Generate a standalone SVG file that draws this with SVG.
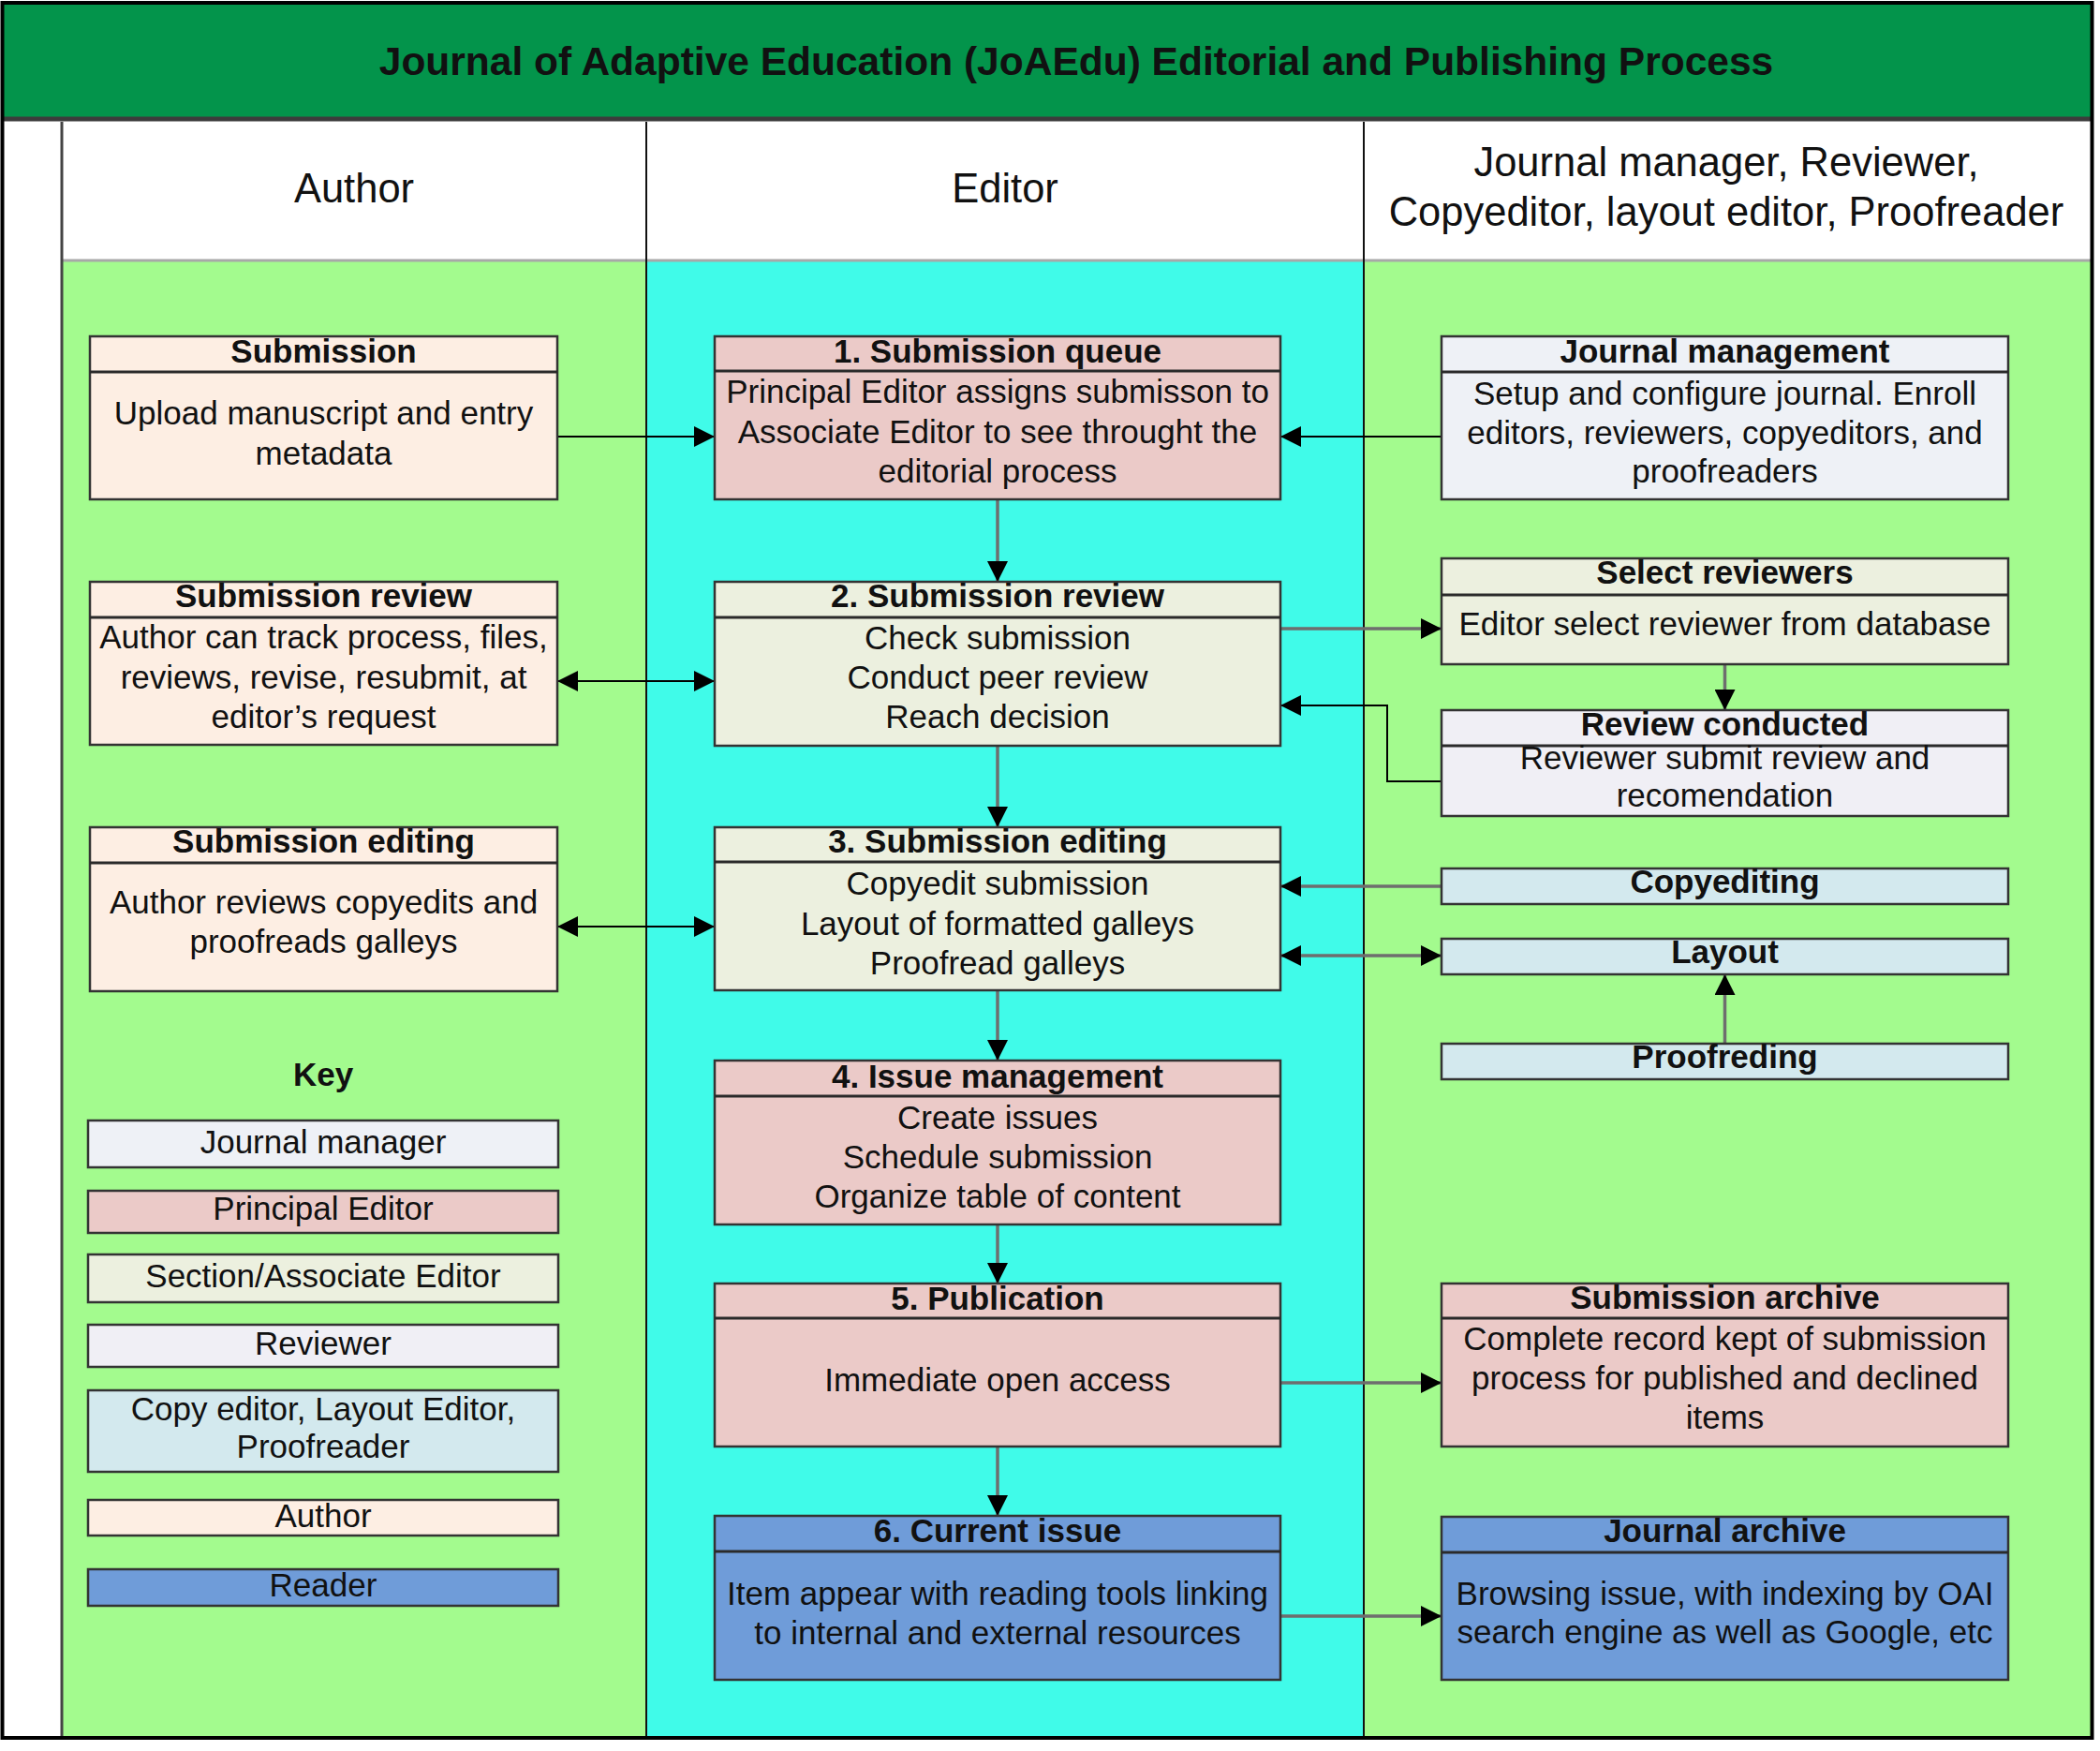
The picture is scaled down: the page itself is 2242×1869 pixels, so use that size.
<svg xmlns="http://www.w3.org/2000/svg" width="2242" height="1869" viewBox="0 0 2242 1869">
<style>
.t{font-family:"Liberation Sans",Arial,sans-serif;font-size:35px;text-anchor:middle;fill:#111}
.b{font-weight:bold}
.lh{font-size:43.5px}
.box{stroke:#333;stroke-width:2.5}
.div{stroke:#2a2a2a;stroke-width:3}
.au{fill:#fdeee3}
.pe{fill:#ebcac8}
.se{fill:#ecf0df}
.jm{fill:#eef1f6}
.rv{fill:#f0eff5}
.ce{fill:#d3e9ee}
.rd{fill:#6f9cd9}
.c{fill:none;stroke:#000;stroke-width:2}
.g{fill:none;stroke:#6e6e6e;stroke-width:3.5}
</style>
<defs>
<marker id="ah" viewBox="0 0 10 10" refX="10" refY="5" markerWidth="22" markerHeight="22" markerUnits="userSpaceOnUse" orient="auto-start-reverse"><path d="M0,0 L10,5 L0,10 z" fill="#000"/></marker>
</defs>
<rect x="0" y="0" width="2242" height="1869" fill="#fff"/>
<!-- lanes -->
<g id="background">
<rect x="4" y="4" width="2229" height="122" fill="#03944b"/>
<line x1="4" y1="127" x2="2233" y2="127" stroke="#3c3c3c" stroke-width="5"/>
<rect x="4" y="130" width="2229" height="147" fill="#fff"/>
<rect x="67" y="279" width="623" height="1575" fill="#a3fb8e"/>
<rect x="690" y="279" width="766" height="1575" fill="#40fbe9"/>
<rect x="1456" y="279" width="777" height="1575" fill="#a3fb8e"/>
<line x1="67" y1="278" x2="2233" y2="278" stroke="#a8a8a8" stroke-width="3"/>
<line x1="66" y1="130" x2="66" y2="1855" stroke="#444" stroke-width="3"/>
<line x1="690" y1="130" x2="690" y2="1855" stroke="#111" stroke-width="2"/>
<line x1="1456" y1="130" x2="1456" y2="1855" stroke="#111" stroke-width="2"/>
<rect x="2.5" y="3" width="2231" height="1852" fill="none" stroke="#000" stroke-width="4"/>
<text class="t b" x="1149" y="80" style="font-size:42.5px">Journal of Adaptive Education (JoAEdu) Editorial and Publishing Process</text>
<text class="t lh" x="378" y="216">Author</text>
<text class="t lh" x="1073" y="216">Editor</text>
<text class="t lh" x="1843" y="188">Journal manager, Reviewer,</text>
<text class="t lh" x="1843" y="241">Copyeditor, layout editor, Proofreader</text>
</g>
<!-- connectors -->
<g id="connectors">
<path class="c" d="M595,466 H763" marker-end="url(#ah)"/>
<path class="c" d="M1539,466 H1367" marker-end="url(#ah)"/>
<path class="g" d="M1065,533 V621" marker-end="url(#ah)"/>
<path class="c" d="M595,727 H763" marker-start="url(#ah)" marker-end="url(#ah)"/>
<path class="g" d="M1367,671 H1539" marker-end="url(#ah)"/>
<path class="g" d="M1841.5,709 V758" marker-end="url(#ah)"/>
<path class="c" d="M1539,834 H1481 V753 H1367" marker-end="url(#ah)"/>
<path class="g" d="M1065,796 V883" marker-end="url(#ah)"/>
<path class="c" d="M595,989 H763" marker-start="url(#ah)" marker-end="url(#ah)"/>
<path class="g" d="M1539,946 H1367" marker-end="url(#ah)"/>
<path class="g" d="M1367,1020 H1539" marker-start="url(#ah)" marker-end="url(#ah)"/>
<path class="g" d="M1841.5,1114 V1040" marker-end="url(#ah)"/>
<path class="g" d="M1065,1057 V1132" marker-end="url(#ah)"/>
<path class="g" d="M1065,1307 V1370" marker-end="url(#ah)"/>
<path class="g" d="M1065,1544 V1618" marker-end="url(#ah)"/>
<path class="g" d="M1367,1476 H1539" marker-end="url(#ah)"/>
<path class="g" d="M1367,1725 H1539" marker-end="url(#ah)"/>
</g>
<!-- Author lane -->
<g id="author-submission">
<rect class="box au" x="96" y="359" width="499" height="174"/>
<line class="div" x1="96" y1="397" x2="595" y2="397"/>
<text class="t b" x="345.5" y="387">Submission</text>
<text class="t" x="345.5" y="453">Upload manuscript and entry</text>
<text class="t" x="345.5" y="496">metadata</text>
</g>
<g id="author-review">
<rect class="box au" x="96" y="621" width="499" height="174"/>
<line class="div" x1="96" y1="659" x2="595" y2="659"/>
<text class="t b" x="345.5" y="648">Submission review</text>
<text class="t" x="345.5" y="692">Author can track process, files,</text>
<text class="t" x="345.5" y="735">reviews, revise, resubmit, at</text>
<text class="t" x="345.5" y="777">editor’s request</text>
</g>
<g id="author-editing">
<rect class="box au" x="96" y="883" width="499" height="175"/>
<line class="div" x1="96" y1="921" x2="595" y2="921"/>
<text class="t b" x="345.5" y="910">Submission editing</text>
<text class="t" x="345.5" y="975">Author reviews copyedits and</text>
<text class="t" x="345.5" y="1017">proofreads galleys</text>
</g>
<!-- Key -->
<g id="key">
<text class="t b" x="345" y="1159">Key</text>
<rect class="box jm" x="94" y="1196" width="502" height="50"/>
<text class="t" x="345" y="1231">Journal manager</text>
<rect class="box pe" x="94" y="1271" width="502" height="45"/>
<text class="t" x="345" y="1302">Principal Editor</text>
<rect class="box se" x="94" y="1339" width="502" height="51"/>
<text class="t" x="345" y="1374">Section/Associate Editor</text>
<rect class="box rv" x="94" y="1414" width="502" height="45"/>
<text class="t" x="345" y="1446">Reviewer</text>
<rect class="box ce" x="94" y="1484" width="502" height="87"/>
<text class="t" x="345" y="1516">Copy editor, Layout Editor,</text>
<text class="t" x="345" y="1556">Proofreader</text>
<rect class="box au" x="94" y="1601" width="502" height="38"/>
<text class="t" x="345" y="1630">Author</text>
<rect class="box rd" x="94" y="1675" width="502" height="39"/>
<text class="t" x="345" y="1704">Reader</text>
</g>
<!-- Editor lane -->
<g id="ed-1">
<rect class="box pe" x="763" y="359" width="604" height="174"/>
<line class="div" x1="763" y1="396" x2="1367" y2="396"/>
<text class="t b" x="1065" y="387">1. Submission queue</text>
<text class="t" x="1065" y="430">Principal Editor assigns submisson to</text>
<text class="t" x="1065" y="473">Associate Editor to see throught the</text>
<text class="t" x="1065" y="515">editorial process</text>
</g>
<g id="ed-2">
<rect class="box se" x="763" y="621" width="604" height="175"/>
<line class="div" x1="763" y1="659" x2="1367" y2="659"/>
<text class="t b" x="1065" y="648">2. Submission review</text>
<text class="t" x="1065" y="693">Check submission</text>
<text class="t" x="1065" y="735">Conduct peer review</text>
<text class="t" x="1065" y="777">Reach decision</text>
</g>
<g id="ed-3">
<rect class="box se" x="763" y="883" width="604" height="174"/>
<line class="div" x1="763" y1="920" x2="1367" y2="920"/>
<text class="t b" x="1065" y="910">3. Submission editing</text>
<text class="t" x="1065" y="955">Copyedit submission</text>
<text class="t" x="1065" y="998">Layout of formatted galleys</text>
<text class="t" x="1065" y="1040">Proofread galleys</text>
</g>
<g id="ed-4">
<rect class="box pe" x="763" y="1132" width="604" height="175"/>
<line class="div" x1="763" y1="1170" x2="1367" y2="1170"/>
<text class="t b" x="1065" y="1161">4. Issue management</text>
<text class="t" x="1065" y="1205">Create issues</text>
<text class="t" x="1065" y="1247">Schedule submission</text>
<text class="t" x="1065" y="1289">Organize table of content</text>
</g>
<g id="ed-5">
<rect class="box pe" x="763" y="1370" width="604" height="174"/>
<line class="div" x1="763" y1="1407" x2="1367" y2="1407"/>
<text class="t b" x="1065" y="1398">5. Publication</text>
<text class="t" x="1065" y="1485">Immediate open access</text>
</g>
<g id="ed-6">
<rect class="box rd" x="763" y="1618" width="604" height="175"/>
<line class="div" x1="763" y1="1656" x2="1367" y2="1656"/>
<text class="t b" x="1065" y="1646">6. Current issue</text>
<text class="t" x="1065" y="1713">Item appear with reading tools linking</text>
<text class="t" x="1065" y="1755">to internal and external resources</text>
</g>
<!-- Right lane -->
<g id="journal-management">
<rect class="box jm" x="1539" y="359" width="605" height="174"/>
<line class="div" x1="1539" y1="397" x2="2144" y2="397"/>
<text class="t b" x="1841.5" y="387">Journal management</text>
<text class="t" x="1841.5" y="432">Setup and configure journal. Enroll</text>
<text class="t" x="1841.5" y="474">editors, reviewers, copyeditors, and</text>
<text class="t" x="1841.5" y="515">proofreaders</text>
</g>
<g id="select-reviewers">
<rect class="box se" x="1539" y="596" width="605" height="113"/>
<line class="div" x1="1539" y1="635" x2="2144" y2="635"/>
<text class="t b" x="1841.5" y="623">Select reviewers</text>
<text class="t" x="1841.5" y="678">Editor select reviewer from database</text>
</g>
<g id="review-conducted">
<rect class="box rv" x="1539" y="758" width="605" height="113"/>
<line class="div" x1="1539" y1="796" x2="2144" y2="796"/>
<text class="t b" x="1841.5" y="785">Review conducted</text>
<text class="t" x="1841.5" y="821">Reviewer submit review and</text>
<text class="t" x="1841.5" y="861">recomendation</text>
</g>
<g id="copyediting">
<rect class="box ce" x="1539" y="927" width="605" height="38"/>
<text class="t b" x="1841.5" y="953">Copyediting</text>
</g>
<g id="layout">
<rect class="box ce" x="1539" y="1002" width="605" height="38"/>
<text class="t b" x="1841.5" y="1028">Layout</text>
</g>
<g id="proofreding">
<rect class="box ce" x="1539" y="1114" width="605" height="38"/>
<text class="t b" x="1841.5" y="1140">Proofreding</text>
</g>
<g id="submission-archive">
<rect class="box pe" x="1539" y="1370" width="605" height="174"/>
<line class="div" x1="1539" y1="1407" x2="2144" y2="1407"/>
<text class="t b" x="1841.5" y="1397">Submission archive</text>
<text class="t" x="1841.5" y="1441">Complete record kept of submission</text>
<text class="t" x="1841.5" y="1483">process for published and declined</text>
<text class="t" x="1841.5" y="1525">items</text>
</g>
<g id="journal-archive">
<rect class="box rd" x="1539" y="1619" width="605" height="174"/>
<line class="div" x1="1539" y1="1657" x2="2144" y2="1657"/>
<text class="t b" x="1841.5" y="1646">Journal archive</text>
<text class="t" x="1841.5" y="1713">Browsing issue, with indexing by OAI</text>
<text class="t" x="1841.5" y="1754">search engine as well as Google, etc</text>
</g>
</svg>
